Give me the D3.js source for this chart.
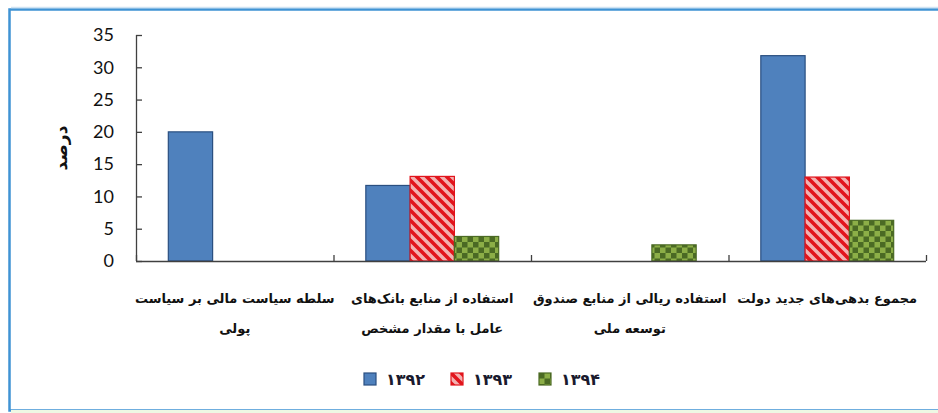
<!DOCTYPE html>
<html>
<head>
<meta charset="utf-8">
<script src="https://cdn.jsdelivr.net/npm/d3@7/dist/d3.min.js"></script>
<style>
  body { margin: 0; background: #fff; }
  #canvas svg { display: block; }
</style>
</head>
<body>
<div id="canvas"></div>
<script>
"use strict";

/* -------------------- Data -------------------- */

let categories = ["c1", "c2", "c3", "c4"];
let categoryLines = [
    ["سلطه سیاست مالی بر سیاست", "پولی"],
    ["استفاده از منابع بانک‌های", "عامل با مقدار مشخص"],
    ["استفاده ریالی از منابع صندوق", "توسعه ملی"],
    ["مجموع بدهی‌های جدید دولت"]
];
let seriesNames = ["۱۳۹۲", "۱۳۹۳", "۱۳۹۴"];
let values1392 = [20, 11.7, 0, 31.8];
let values1393 = [0, 13.1, 0, 13.0];
let values1394 = [0, 3.8, 2.5, 6.3];
let yTicks = [0, 5, 10, 15, 20, 25, 30, 35];
let yTitle = "درصد";

/* -------------------- Setup -------------------- */

let svgWidth = 938;
let svgHeight = 413;

let svg = d3.select("#canvas")
    .append("svg")
    .attr("width", svgWidth)
    .attr("height", svgHeight);

/* outer frame */
svg.append("rect")
    .attr("x", 9.5)
    .attr("y", 9.5)
    .attr("width", 1000)
    .attr("height", 401)
    .attr("fill", "none")
    .attr("stroke", "#3f93d4")
    .attr("stroke-width", 2.5);
svg.append("line")
    .attr("x1", 11).attr("x2", svgWidth)
    .attr("y1", 7.5).attr("y2", 7.5)
    .attr("stroke", "#cfe3f3")
    .attr("stroke-width", 1.5);
svg.append("line")
    .attr("x1", 11).attr("x2", svgWidth)
    .attr("y1", 411.5).attr("y2", 411.5)
    .attr("stroke", "#eef8e4")
    .attr("stroke-width", 3);

/* -------------------- Patterns -------------------- */

let defs = svg.append("defs");

let redPat = defs.append("pattern")
    .attr("id", "redStripe")
    .attr("patternUnits", "userSpaceOnUse")
    .attr("width", 10)
    .attr("height", 10);
redPat.append("rect")
    .attr("width", 10).attr("height", 10)
    .attr("fill", "#f3b1b1");
redPat.append("path")
    .attr("d", "M-2,-2 L12,12 M-2,8 L2,12 M8,-2 L12,2")
    .attr("stroke", "#e2141c")
    .attr("stroke-width", 3.6);

let greenPat = defs.append("pattern")
    .attr("id", "greenCheck")
    .attr("patternUnits", "userSpaceOnUse")
    .attr("width", 11)
    .attr("height", 11);
greenPat.append("rect")
    .attr("width", 11).attr("height", 11)
    .attr("fill", "#8cae47");
greenPat.append("rect")
    .attr("width", 5.5).attr("height", 5.5)
    .attr("fill", "#4b6a24");
greenPat.append("rect")
    .attr("x", 5.5).attr("y", 5.5)
    .attr("width", 5.5).attr("height", 5.5)
    .attr("fill", "#4b6a24");

let seriesFill = ["#4f81bd", "url(#redStripe)", "url(#greenCheck)"];
let seriesStroke = ["#2a4f80", "#e2141c", "#4b6a24"];
let seriesValues = [values1392, values1393, values1394];

/* -------------------- Scales -------------------- */

let plotLeft = 136;
let plotRight = 926;
let plotTop = 35;
let plotBottom = 261;

let x0 = d3.scaleBand()
    .domain(categories)
    .range([plotLeft, plotRight])
    .paddingInner(0)
    .paddingOuter(0);

let x1 = d3.scaleBand()
    .domain(seriesNames)
    .range([0, x0.bandwidth()])
    .paddingInner(0)
    .paddingOuter(0.73);

let yScale = d3.scaleLinear()
    .domain([0, 35])
    .range([plotBottom, plotTop]);

/* -------------------- Bars -------------------- */

let barData = [];
categories.forEach(function (c, i) {
    seriesNames.forEach(function (s, j) {
        barData.push({ cat: c, series: s, idx: j, value: seriesValues[j][i] });
    });
});

svg.selectAll("rect.bar")
    .data(barData.filter(function (d) { return d.value > 0; }))
    .join("rect")
    .attr("class", "bar")
    .attr("x", function (d) { return x0(d.cat) + x1(d.series); })
    .attr("y", function (d) { return yScale(d.value); })
    .attr("width", x1.bandwidth())
    .attr("height", function (d) { return plotBottom - yScale(d.value); })
    .attr("fill", function (d) { return seriesFill[d.idx]; })
    .attr("stroke", function (d) { return seriesStroke[d.idx]; })
    .attr("stroke-width", 1.2);

/* -------------------- Axes -------------------- */

let axisColor = "#404040";

let yAxis = svg.append("g")
    .attr("transform", "translate(" + plotLeft + ",0)")
    .call(d3.axisRight(yScale).tickValues(yTicks).tickSize(6).tickFormat(""));
yAxis.select(".domain").attr("stroke", axisColor).attr("stroke-width", 1.3)
    .attr("d", "M0.5," + plotTop + "V" + plotBottom);
yAxis.selectAll(".tick line").attr("stroke", axisColor).attr("stroke-width", 1.3);

svg.selectAll("text.ytick")
    .data(yTicks)
    .join("text")
    .attr("class", "ytick")
    .attr("x", 114)
    .attr("y", function (d) { return yScale(d); })
    .attr("dy", "0.35em")
    .attr("text-anchor", "end")
    .attr("font-family", "Lato, 'Open Sans', sans-serif")
    .attr("font-size", 18)
    .attr("fill", "#111")
    .text(function (d) { return d; });

let xBoundaries = categories.map(function (c) { return x0(c); }).concat([plotRight]);

svg.append("line")
    .attr("x1", plotLeft).attr("x2", plotRight)
    .attr("y1", plotBottom + 0.5).attr("y2", plotBottom + 0.5)
    .attr("stroke", axisColor).attr("stroke-width", 1.3);

svg.selectAll("line.xtick")
    .data(xBoundaries)
    .join("line")
    .attr("class", "xtick")
    .attr("x1", function (d) { return d + 0.5; })
    .attr("x2", function (d) { return d + 0.5; })
    .attr("y1", plotBottom - 6)
    .attr("y2", plotBottom)
    .attr("stroke", axisColor).attr("stroke-width", 1.3);

/* category labels */
categories.forEach(function (c, i) {
    let cx = x0(c) + x0.bandwidth() / 2;
    categoryLines[i].forEach(function (line, k) {
        svg.append("text")
            .attr("x", cx)
            .attr("y", 303 + k * 30)
            .attr("text-anchor", "middle")
            .attr("direction", "rtl")
            .attr("font-family", "'DejaVu Sans', sans-serif")
            .attr("font-weight", "bold")
            .attr("font-size", 13)
            .attr("fill", "#111")
            .text(line);
    });
});

/* y title */
svg.append("text")
    .attr("transform", "translate(67,148) rotate(-90)")
    .attr("text-anchor", "middle")
    .attr("direction", "rtl")
    .attr("font-family", "'DejaVu Sans', sans-serif")
    .attr("font-weight", "bold")
    .attr("font-size", 17)
    .attr("fill", "#111")
    .text(yTitle);

/* -------------------- Legend -------------------- */

let legendX = [364, 451, 539];
let legend = svg.selectAll("g.legend")
    .data(seriesNames)
    .join("g")
    .attr("class", "legend")
    .attr("transform", function (d, i) { return "translate(" + legendX[i] + ",373)"; });

legend.append("rect")
    .attr("width", 12)
    .attr("height", 12)
    .attr("fill", function (d, i) { return seriesFill[i]; })
    .attr("stroke", function (d, i) { return seriesStroke[i]; })
    .attr("stroke-width", 1.2);

legend.append("text")
    .attr("x", 22)
    .attr("y", 12)
    .attr("font-family", "'DejaVu Sans', sans-serif")
    .attr("font-weight", "bold")
    .attr("font-size", 16)
    .attr("fill", "#1a1a2e")
    .text(function (d) { return d; });
</script>
</body>
</html>
